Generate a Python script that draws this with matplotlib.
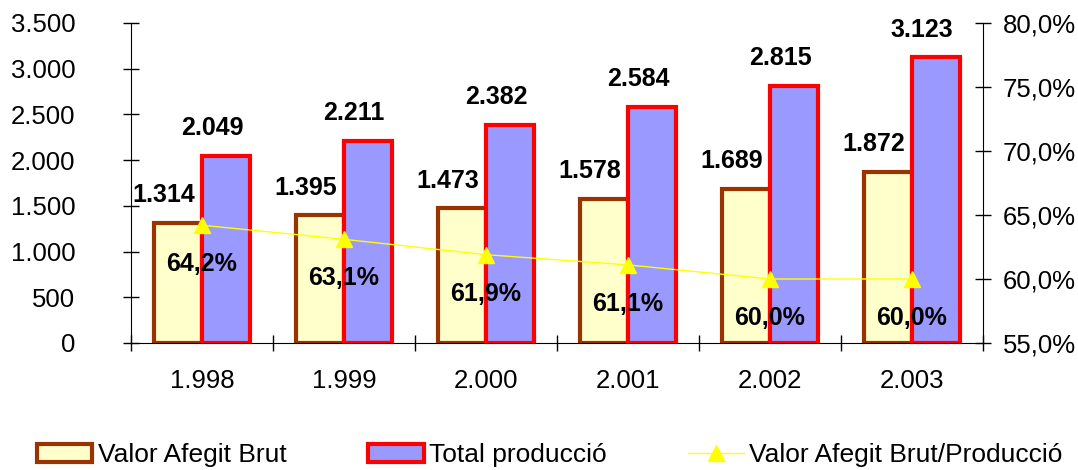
import numpy as np
import matplotlib.pyplot as plt
from matplotlib.patches import Patch
from matplotlib.lines import Line2D

plt.rcParams['font.family'] = ['Liberation Sans', 'DejaVu Sans']

years = ['1.998', '1.999', '2.000', '2.001', '2.002', '2.003']
vab = [1314, 1395, 1473, 1578, 1689, 1872]
produccio = [2049, 2211, 2382, 2584, 2815, 3123]
ratio = [64.2, 63.1, 61.9, 61.1, 60.0, 60.0]

yticks_left = [0, 500, 1000, 1500, 2000, 2500, 3000, 3500]
yticks_right = [55, 60, 65, 70, 75, 80]


def fmt_num(v):
    return f"{v:,}".replace(',', '.')


def fmt_pct(v):
    return f"{v:.1f}".replace('.', ',') + '%'


fig = plt.figure(figsize=(10.78, 4.70), dpi=100)
ax = fig.add_axes([131 / 1078, 1 - 343 / 470, (983 - 131) / 1078, 320 / 470])

x = np.arange(len(years))
w = 0.34

ax.bar(x - w / 2, vab, w, color='#FFFFCC', edgecolor='#993300', linewidth=3, zorder=2)
ax.bar(x + w / 2, produccio, w, color='#9999FF', edgecolor='#FF0000', linewidth=3, zorder=3)

for xi, v in zip(x, vab):
    ax.annotate(fmt_num(v), (xi - w / 2, v), xytext=(-10, 20), textcoords='offset points',
                ha='center', va='center', fontsize=18, fontweight='bold', zorder=6)
for xi, v in zip(x, produccio):
    ax.annotate(fmt_num(v), (xi + w / 2, v), xytext=(-10, 20), textcoords='offset points',
                ha='center', va='center', fontsize=18, fontweight='bold', zorder=6)

ax.set_xlim(-0.5, len(years) - 0.5)
ax.set_ylim(0, 3500)
ax.set_yticks(yticks_left)
ax.set_yticklabels([fmt_num(v) for v in yticks_left])
ax.set_xticks(np.arange(len(years) + 1) - 0.5)
ax.set_xticklabels([])
ax.set_xticks(x, minor=True)
ax.set_xticklabels(years, minor=True)
ax.tick_params(axis='x', which='major', direction='inout', length=12, width=1)
ax.tick_params(axis='x', which='minor', length=0, pad=19, labelsize=18.5)
ax.tick_params(axis='y', direction='inout', length=12, width=1, pad=34, labelsize=18.5)
for s in ['top', 'right']:
    ax.spines[s].set_visible(False)

ax2 = ax.twinx()
ax2.plot(x, ratio, color='#FFFF00', linewidth=1, marker='^', markersize=11,
         markerfacecolor='#FFFF00', markeredgecolor='#FFFF00', zorder=5)
for xi, v in zip(x, ratio):
    ax2.annotate(fmt_pct(v), (xi, v), xytext=(0, -28), textcoords='offset points',
                 ha='center', va='center', fontsize=18, fontweight='bold', zorder=6)
ax2.set_ylim(55, 80)
ax2.set_yticks(yticks_right)
ax2.set_yticklabels([fmt_pct(v) for v in yticks_right])
ax2.tick_params(axis='y', direction='inout', length=12, width=1, pad=8, labelsize=18.5)
for s in ['top', 'left', 'bottom']:
    ax2.spines[s].set_visible(False)

handles = [
    Patch(facecolor='#FFFFCC', edgecolor='#993300', linewidth=3),
    Patch(facecolor='#9999FF', edgecolor='#FF0000', linewidth=3),
    Line2D([], [], color='#FFFF00', linewidth=1, marker='^', markersize=11),
]
labels = ['Valor Afegit Brut', 'Total producció', 'Valor Afegit Brut/Producció']
fig.legend(handles, labels, loc='lower center', bbox_to_anchor=(0.51, -0.045), ncol=3,
           frameon=False, fontsize=19, handlelength=2.1, handletextpad=0.2,
           columnspacing=3.1)

fig.savefig('out.png', dpi=100)
